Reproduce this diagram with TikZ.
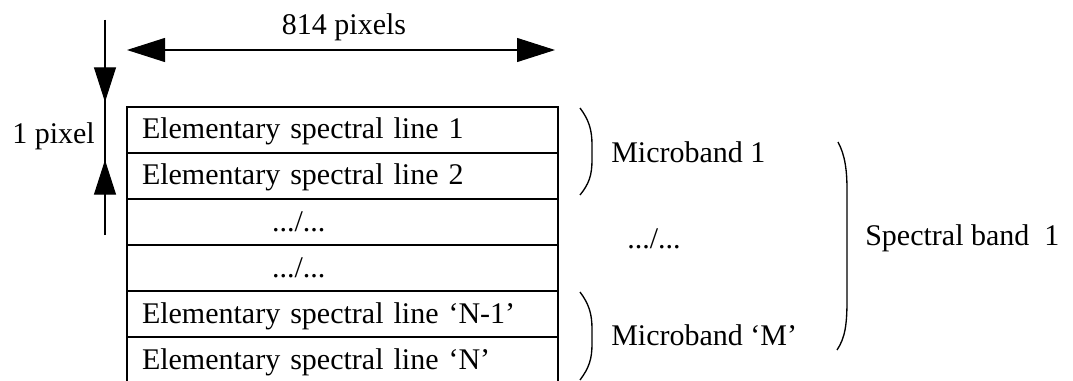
\documentclass[tikz,border=0pt]{standalone}
\usepackage{fontspec}
\setmainfont{Liberation Serif}
\usetikzlibrary{arrows.meta}
\begin{document}
\begin{tikzpicture}[x=0.75pt,y=-0.75pt,
  font=\fontsize{22.5}{27}\selectfont,
  rowbox/.style={draw, line width=1.1pt, rectangle, minimum width=323.25pt,
    minimum height=34.5pt, inner xsep=11.25pt, inner ysep=0pt,
    text width=300.75pt, align=left, text height=13.5pt, text depth=0pt},
  lbl/.style={anchor=base west, inner sep=0pt},
  dim/.style={line width=0.8pt},
  harrow/.style={{Triangle[length=28.5pt,width=18pt]}-{Triangle[length=28.5pt,width=18pt]}},
  varrow/.style={-{Triangle[length=26pt,width=16.5pt]}},
  paren/.style={line width=1pt}]
\clip (0,0) rectangle (1073,381);
% table rows
\node[rowbox] (r1) at (342.5,130) {Elementary spectral line 1};
\node[rowbox] (r2) at (342.5,176) {Elementary spectral line 2};
\node[rowbox] (r3) at (342.5,222) {\hspace*{97.5pt}.../...};
\node[rowbox] (r4) at (342.5,268) {\hspace*{97.5pt}.../...};
\node[rowbox] (r5) at (342.5,314) {Elementary spectral line ‘N-1’};
\node[rowbox] (r6) at (342.5,360) {Elementary spectral line ‘N’};
% horizontal dimension
\coordinate (hl) at (127,50);
\coordinate (hr) at (555,50);
\draw[dim, harrow] (hl) -- (hr);
\node[anchor=base, inner sep=0pt] (w) at (344,35) {814 pixels};
% vertical dimension
\coordinate (vtop) at (105,20);
\coordinate (vbot) at (105,235);
\coordinate (tipdown) at (105,102);
\coordinate (tipup) at (105,160);
\draw[dim] (vtop) -- (vbot);
\draw[dim, varrow] (vtop) -- (tipdown);
\draw[dim, varrow] (vbot) -- (tipup);
\node[lbl] (h) at (12,143) {1 pixel};
% brackets
\draw[paren] (580,108) .. controls (589,120) and (592,130) .. (592,145) -- (592,160)
  .. controls (592,175) and (589,184) .. (580,195);
\draw[paren] (580,292) .. controls (589,304) and (592,314) .. (592,329) -- (592,344)
  .. controls (592,359) and (589,368) .. (580,380);
\draw[paren] (838,142) .. controls (845,155) and (847,170) .. (847,190) -- (847,300)
  .. controls (847,325) and (845,338) .. (837,350);
% labels
\node[lbl] (m1) at (611,162) {Microband 1};
\node[lbl] (md) at (627,248) {.../...};
\node[lbl] (mm) at (611,345) {Microband ‘M’};
\node[lbl] (sb) at (865,245) {Spectral band\ \ 1};
\end{tikzpicture}
\end{document}
